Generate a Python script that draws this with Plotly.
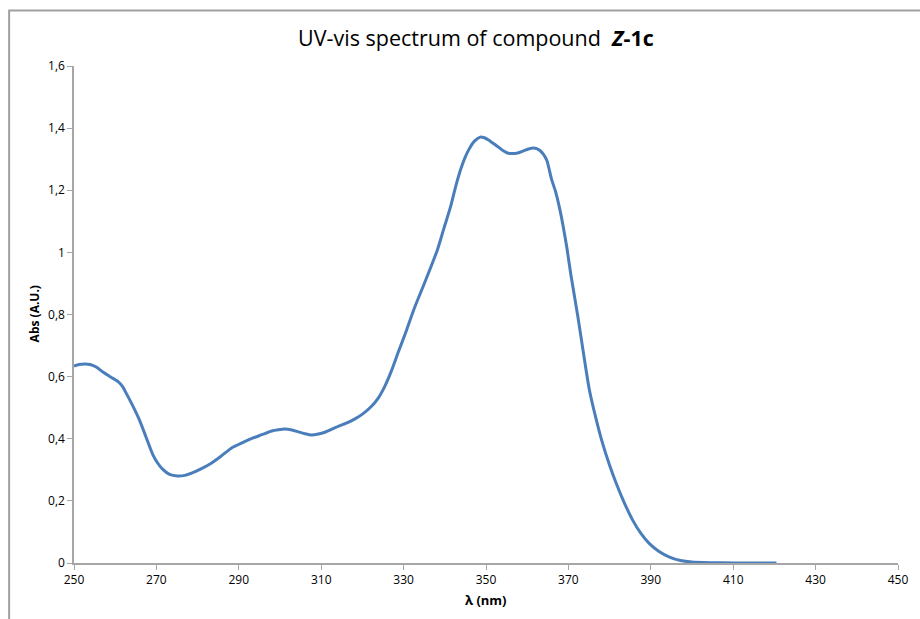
import plotly.graph_objects as go

# UV-vis absorption spectrum of compound Z-1c
wavelength_nm = [250.0, 251.2, 252.7, 253.9, 255.5, 257.1, 259.0, 260.7, 261.8, 262.7,
                 264.3, 265.9, 267.5, 269.1, 270.3, 271.5, 273.2, 275.1, 276.9, 278.7,
                 280.7, 282.8, 285.6, 288.4, 290.8, 293.2, 295.6, 298.0, 299.6, 301.2,
                 302.9, 304.5, 306.1, 307.7, 309.3, 310.9, 312.5, 314.1, 316.1, 318.1,
                 320.1, 322.1, 323.8, 325.4, 327.0, 328.6, 330.6, 332.6, 335.4, 338.2,
                 339.8, 341.4, 342.6, 343.8, 344.8, 345.8, 347.2, 348.6, 349.6, 350.6,
                 352.4, 354.2, 355.2, 356.3, 357.7, 359.1, 360.3, 361.5, 362.3, 363.1,
                 364.0, 364.8, 365.9, 366.9, 367.9, 369.5, 370.7, 372.3, 373.7, 375.1,
                 376.7, 378.3, 380.0, 381.6, 383.6, 385.6, 387.6, 389.6, 392.0, 394.4,
                 397.2, 400.0, 405.0, 410.0, 415.0, 420.5]
absorbance = [0.634, 0.639, 0.641, 0.639, 0.630, 0.614, 0.598, 0.584, 0.568, 0.546,
              0.505, 0.460, 0.405, 0.350, 0.322, 0.302, 0.285, 0.280, 0.282, 0.290,
              0.302, 0.317, 0.343, 0.372, 0.387, 0.401, 0.413, 0.425, 0.429, 0.431,
              0.428, 0.422, 0.416, 0.412, 0.415, 0.421, 0.430, 0.440, 0.450, 0.463,
              0.480, 0.503, 0.530, 0.568, 0.617, 0.675, 0.745, 0.820, 0.912, 1.008,
              1.078, 1.147, 1.210, 1.265, 1.302, 1.330, 1.358, 1.371, 1.369, 1.362,
              1.345, 1.327, 1.320, 1.318, 1.320, 1.327, 1.333, 1.336, 1.334, 1.328,
              1.315, 1.295, 1.236, 1.195, 1.140, 1.025, 0.920, 0.793, 0.672, 0.557,
              0.465, 0.385, 0.315, 0.257, 0.193, 0.138, 0.095, 0.063, 0.037, 0.020,
              0.008, 0.003, 0.001, 0.0, 0.0, 0.0]

x_ticks = list(range(250, 451, 20))
y_ticks = [0, 0.2, 0.4, 0.6, 0.8, 1.0, 1.2, 1.4, 1.6]

AXIS_GRAY = "#a6a6a6"
FONT = "Open Sans"

fig = go.Figure()
fig.add_trace(go.Scatter(
    x=wavelength_nm, y=absorbance, mode="lines",
    line=dict(color="#4a7ebb", width=3, shape="spline", smoothing=0.6),
    hoverinfo="x+y", showlegend=False,
))

fig.update_layout(
    width=920, height=619,
    margin=dict(l=74, r=14, t=66, b=56),
    paper_bgcolor="white", plot_bgcolor="white",
    separators=",.",
    font=dict(family=FONT, color="#000000", size=12),
    title=dict(
        text="UV-vis spectrum of compound  <b><i>Z</i>-1c</b>",
        x=476 / 920, xref="container", xanchor="center",
        y=1 - 38 / 619, yref="container", yanchor="middle",
        font=dict(family=FONT, size=21.5, color="#000000"),
    ),
    xaxis=dict(
        range=[250, 450], tickvals=x_ticks, showgrid=False, zeroline=False,
        showline=True, linecolor=AXIS_GRAY, linewidth=1.5,
        ticks="outside", ticklen=5, tickcolor=AXIS_GRAY, tickwidth=1,
        tickfont=dict(family=FONT, size=12, color="#000000"),
    ),
    yaxis=dict(
        range=[0, 1.6], tickvals=y_ticks, showgrid=False, zeroline=False,
        showline=True, linecolor=AXIS_GRAY, linewidth=1.5,
        ticks="outside", ticklen=5, tickcolor=AXIS_GRAY, tickwidth=1,
        tickfont=dict(family=FONT, size=12, color="#000000"),
    ),
    annotations=[
        dict(text="<b>λ (nm)</b>", xref="paper", yref="paper",
             x=0.5, y=(563 - 600) / 497, xanchor="center", yanchor="middle",
             showarrow=False, font=dict(family=FONT, size=13)),
        dict(text="<b>Abs (A.U.)</b>", xref="paper", yref="paper",
             x=(34 - 74) / 832, y=(563 - 314) / 497, xanchor="center", yanchor="middle",
             textangle=-90, showarrow=False, font=dict(family=FONT, size=12)),
    ],
    shapes=[
        # chart-area border
        dict(type="rect", xref="paper", yref="paper",
             x0=(8.5 - 74) / 832, y0=-0.3, x1=1.2, y1=(563 - 10.5) / 497,
             line=dict(color="#a0a0a0", width=2), fillcolor="rgba(0,0,0,0)", layer="below"),
    ],
)

fig.write_html("out.html")
